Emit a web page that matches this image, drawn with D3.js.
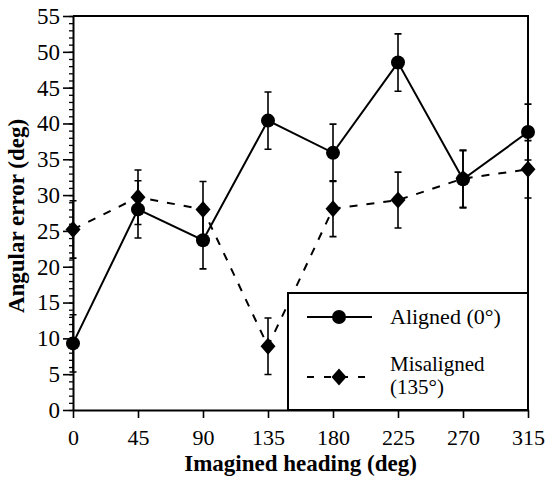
<!DOCTYPE html>
<html>
<head>
<meta charset="utf-8">
<script src="https://cdn.jsdelivr.net/npm/d3@7"></script>
<style>
  html, body { margin: 0; padding: 0; background: #fff; }
  svg { display: block; }
  text { font-family: "Liberation Serif", "DejaVu Serif", serif; fill: #000; }
</style>
</head>
<body>
<svg id="chart" width="546" height="486"></svg>
<script>
// Imagined heading (deg) on the x axis
const headings = [0, 45, 90, 135, 180, 225, 270, 315];

// Mean angular error (deg) and error-bar half widths for each condition
const alignedMean = [9.3, 28.0, 23.7, 40.4, 35.9, 48.5, 32.2, 38.8];
const alignedErr  = [4.0, 4.0, 4.0, 4.0, 4.0, 4.0, 4.0, 3.9];
const misalignedMean = [25.2, 29.7, 28.0, 8.9, 28.1, 29.3, 32.3, 33.6];
const misalignedErr  = [4.0, 3.8, 3.9, 3.95, 3.9, 3.9, 4.0, 4.0];

const yMajorTicks = [0, 5, 10, 15, 20, 25, 30, 35, 40, 45, 50, 55];
const seriesNames = ["Aligned (0°)", "Misaligned", "(135°)"];

const svg = d3.select("#chart");
const plotLeft = 73, plotRight = 528, plotTop = 16, plotBottom = 410;

const x = d3.scaleLinear().domain([0, 315]).range([plotLeft, plotRight]);
const y = d3.scaleLinear().domain([0, 55]).range([plotBottom, plotTop]);

const FS = 22;

// minor y ticks every 1 deg
svg.append("g")
  .attr("transform", `translate(${plotLeft},0)`)
  .call(d3.axisLeft(y).tickValues(d3.range(0, 56, 1)).tickSize(4).tickFormat(""))
  .call(g => g.select(".domain").remove())
  .call(g => g.selectAll("line").attr("stroke", "#000").attr("stroke-width", 1.3));

// major y ticks with labels
svg.append("g")
  .attr("transform", `translate(${plotLeft},0)`)
  .call(d3.axisLeft(y).tickValues(yMajorTicks).tickSize(10).tickPadding(3).tickSizeOuter(0))
  .call(g => g.select(".domain").attr("stroke", "#000").attr("stroke-width", 2))
  .call(g => g.selectAll("line").attr("stroke", "#000").attr("stroke-width", 1.6))
  .call(g => g.selectAll("text").attr("font-size", 23).attr("font-family", "Liberation Serif"));

// x axis
svg.append("g")
  .attr("transform", `translate(0,${plotBottom})`)
  .call(d3.axisBottom(x).tickValues(headings).tickSize(8).tickPadding(11).tickSizeOuter(0))
  .call(g => g.select(".domain").attr("stroke", "#000").attr("stroke-width", 2))
  .call(g => g.selectAll("line").attr("stroke", "#000").attr("stroke-width", 1.6))
  .call(g => g.selectAll("text").attr("font-size", FS).attr("font-family", "Liberation Serif"));

// frame: top and right edges
svg.append("path")
  .attr("d", `M${plotLeft},${plotTop}H${plotRight}V${plotBottom}`)
  .attr("fill", "none").attr("stroke", "#000").attr("stroke-width", 2);

// axis titles
svg.append("text")
  .attr("x", (plotLeft + plotRight) / 2).attr("y", 471)
  .attr("text-anchor", "middle")
  .attr("font-size", 23).attr("font-weight", "bold")
  .text("Imagined heading (deg)");

svg.append("text")
  .attr("transform", `translate(24,${216}) rotate(-90)`)
  .attr("text-anchor", "middle")
  .attr("font-size", 23).attr("font-weight", "bold")
  .text("Angular error (deg)");

const aligned = headings.map((h, i) => ({ h, v: alignedMean[i], e: alignedErr[i] }));
const misaligned = headings.map((h, i) => ({ h, v: misalignedMean[i], e: misalignedErr[i] }));

const line = d3.line().x(d => x(d.h)).y(d => y(d.v));

function errorBars(data) {
  const g = svg.append("g").attr("stroke", "#000").attr("stroke-width", 1.6).attr("fill", "none");
  data.forEach(d => {
    const cx = x(d.h), y1 = y(d.v + d.e), y0 = y(d.v - d.e);
    g.append("path").attr("d", `M${cx},${y1}V${y0}M${cx - 3.5},${y1}H${cx + 3.5}M${cx - 3.5},${y0}H${cx + 3.5}`);
  });
}

errorBars(misaligned);
errorBars(aligned);

svg.append("path").datum(misaligned)
  .attr("d", line).attr("fill", "none").attr("stroke", "#000")
  .attr("stroke-width", 2).attr("stroke-dasharray", "8,9");

svg.append("path").datum(aligned)
  .attr("d", line).attr("fill", "none").attr("stroke", "#000").attr("stroke-width", 2);

const diamond = (cx, cy) => `M${cx},${cy - 8.5}L${cx + 7.5},${cy}L${cx},${cy + 8.5}L${cx - 7.5},${cy}Z`;

svg.append("g").selectAll("path").data(misaligned).join("path")
  .attr("d", d => diamond(x(d.h), y(d.v))).attr("fill", "#000");

svg.append("g").selectAll("circle").data(aligned).join("circle")
  .attr("cx", d => x(d.h)).attr("cy", d => y(d.v)).attr("r", 7).attr("fill", "#000");

// legend
const lg = svg.append("g");
lg.append("rect")
  .attr("x", 288).attr("y", 293).attr("width", plotRight - 288).attr("height", plotBottom - 293)
  .attr("fill", "#fff").attr("stroke", "#000").attr("stroke-width", 2);

lg.append("line").attr("x1", 307).attr("x2", 372).attr("y1", 317).attr("y2", 317)
  .attr("stroke", "#000").attr("stroke-width", 2);
lg.append("circle").attr("cx", 339).attr("cy", 317).attr("r", 7).attr("fill", "#000");
lg.append("text").attr("x", 390).attr("y", 324).attr("font-size", FS).text(seriesNames[0]);

lg.append("line").attr("x1", 307).attr("x2", 372).attr("y1", 377).attr("y2", 377)
  .attr("stroke", "#000").attr("stroke-width", 2).attr("stroke-dasharray", "7,10");
lg.append("path").attr("d", diamond(339, 377)).attr("fill", "#000");
lg.append("text").attr("x", 390).attr("y", 371).attr("font-size", 21).text(seriesNames[1]);
lg.append("text").attr("x", 390).attr("y", 394).attr("font-size", 21).text(seriesNames[2]);
</script>
</body>
</html>
